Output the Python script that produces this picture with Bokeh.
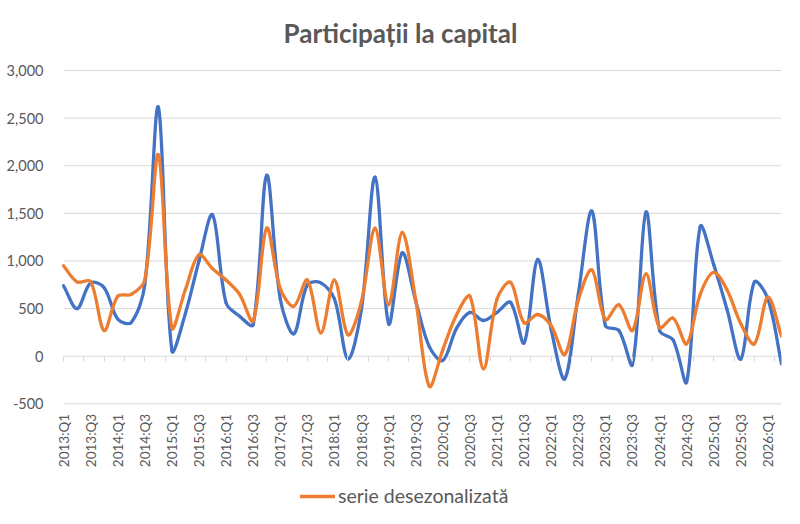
import numpy as np
from bokeh.plotting import figure
from bokeh.models import (FixedTicker, LinearAxis, NumeralTickFormatter, Range1d,
                          Legend, LegendItem, Label)
from bokeh.core.properties import value
from bokeh.embed import file_html
from bokeh.resources import INLINE

# ---------------- data ----------------
years = list(range(2013, 2027))
quarters = [f"{y}:Q{q}" for y in years for q in (1, 2, 3, 4)][:54]   # 2013:Q1 .. 2026:Q2

serie_bruta = [740, 500, 770, 720, 390, 355, 750, 2615, 60, 450,
               1000, 1485, 560, 420, 330, 1900, 600, 235, 750, 770,
               600, -30, 500, 1880, 340, 1085, 580, 100, -45, 290,
               460, 375, 460, 565, 140, 1015, 280, -238, 650, 1523,
               320, 270, -87, 1513, 270, 170, -270, 1360, 960, 480,
               -30, 780, 600, -80]

serie_desezonalizata = [950, 780, 785, 270, 630, 650, 800, 2115, 300, 700,
                        1065, 920, 800, 650, 370, 1345, 710, 525, 800, 245,
                        800, 225, 580, 1345, 540, 1300, 590, -315, 70, 430,
                        630, -133, 600, 777, 350, 438, 320, 18, 590, 907,
                        385, 540, 270, 865, 300, 400, 130, 650, 880, 690,
                        340, 130, 620, 210]

y_ticks = [-500, 0, 500, 1000, 1500, 2000, 2500, 3000]
label_idx = list(range(0, len(quarters), 2))
tick_labels = [quarters[i] for i in label_idx]

TEXT = "#595959"
GRID = "#d9d9d9"
BLUE = "#4472C4"
ORANGE = "#ED7D31"
FONT = "Lato"

PX_PER_X = 13.55      # screen pixels per category step
PX_PER_Y = 0.0952     # screen pixels per value unit


def smooth_segments(vals):
    """Bezier control points for an Excel-like smoothed line
    (chord-length weighted Catmull-Rom tangents)."""
    v = np.asarray(vals, dtype=float)
    n = len(v)
    x = np.arange(n, dtype=float)
    d = np.hypot(np.diff(x) * PX_PER_X, np.diff(v) * PX_PER_Y)
    tx = np.zeros(n); ty = np.zeros(n)
    tx[1:-1] = x[2:] - x[:-2]; ty[1:-1] = v[2:] - v[:-2]
    tx[0] = x[1] - x[0]; ty[0] = v[1] - v[0]
    tx[-1] = x[-1] - x[-2]; ty[-1] = v[-1] - v[-2]
    fw = np.zeros(n); bw = np.zeros(n)
    fw[1:-1] = d[1:] / (d[:-1] + d[1:]) / 3.0
    bw[1:-1] = d[:-1] / (d[:-1] + d[1:]) / 3.0
    fw[0] = 1 / 3; bw[-1] = 1 / 3
    return dict(x0=x[:-1], y0=v[:-1], x1=x[1:], y1=v[1:],
                cx0=x[:-1] + tx[:-1] * fw[:-1], cy0=v[:-1] + ty[:-1] * fw[:-1],
                cx1=x[1:] - tx[1:] * bw[1:], cy1=v[1:] - ty[1:] * bw[1:])


n = len(quarters)
# the frame spans the full height; values -500..3000 occupy the band 70..403 px
p = figure(width=792, height=524, output_backend="svg", toolbar_location=None,
           x_axis_location=None,
           x_range=Range1d(-0.96, n - 1), y_range=Range1d(-1599, 3735),
           min_border_left=50, min_border_right=11, min_border_top=0,
           min_border_bottom=16)
p.outline_line_color = None
p.background_fill_color = "white"
p.border_fill_color = "white"
p.title.visible = False
p.xgrid.grid_line_color = None
p.ygrid.grid_line_color = None

# horizontal gridlines over the category span
p.segment(x0=[0] * len(y_ticks), x1=[n - 1] * len(y_ticks), y0=y_ticks, y1=y_ticks,
          line_color=GRID, line_width=1)

# y axis
p.yaxis.ticker = FixedTicker(ticks=y_ticks)
p.yaxis.formatter = NumeralTickFormatter(format="0,0")
p.yaxis.axis_line_color = None
p.yaxis.major_tick_line_color = None
p.yaxis.minor_tick_line_color = None
p.yaxis.major_label_standoff = 1
p.yaxis.major_label_text_font = FONT
p.yaxis.major_label_text_font_size = "14.5px"
p.yaxis.major_label_text_color = TEXT

# category axis tick marks at value 0
tick_axis = LinearAxis(ticker=FixedTicker(ticks=list(np.arange(0, n - 0.99, 1.5))),
                       fixed_location=0, major_tick_in=0, major_tick_out=5,
                       axis_line_color=None, major_tick_line_color=GRID,
                       minor_tick_line_color=None, major_label_text_alpha=0,
                       major_label_text_font_size="1px", major_label_standoff=0)
p.add_layout(tick_axis, "below")

# category labels, below the lowest gridline
p.text(x=label_idx, y=[y_ticks[0]] * len(label_idx), text=tick_labels,
       angle=np.pi / 2, text_align="right", text_baseline="middle",
       y_offset=10, text_font=value(FONT), text_font_size="13.5px",
       text_color=TEXT)

# series
b = smooth_segments(serie_bruta)
r_blue = p.bezier(x0=b["x0"], y0=b["y0"], x1=b["x1"], y1=b["y1"],
                  cx0=b["cx0"], cy0=b["cy0"], cx1=b["cx1"], cy1=b["cy1"],
                  line_color=BLUE, line_width=3.3, line_cap="round")
o = smooth_segments(serie_desezonalizata)
r_orange = p.bezier(x0=o["x0"], y0=o["y0"], x1=o["x1"], y1=o["y1"],
                    cx0=o["cx0"], cy0=o["cy0"], cx1=o["cx1"], cy1=o["cy1"],
                    line_color=ORANGE, line_width=3.3, line_cap="round")

legend = Legend(items=[LegendItem(label="serie desezonalizată", renderers=[r_orange])],
                location=(250, 1), orientation="horizontal",
                glyph_width=35, glyph_height=20, label_standoff=3,
                label_height=20, padding=0, margin=0, spacing=0,
                border_line_alpha=0, background_fill_alpha=0,
                label_text_font=FONT, label_text_font_size="19.5px",
                label_text_color=TEXT)
p.add_layout(legend)

title = Label(x=350, y=476, x_units="screen", y_units="screen",
              text="Participații la capital", text_align="center",
              text_baseline="alphabetic", text_font=FONT, text_font_style="bold",
              text_font_size="26px", text_color=TEXT)
p.add_layout(title)

open("out.html", "w").write(file_html(p, INLINE))
